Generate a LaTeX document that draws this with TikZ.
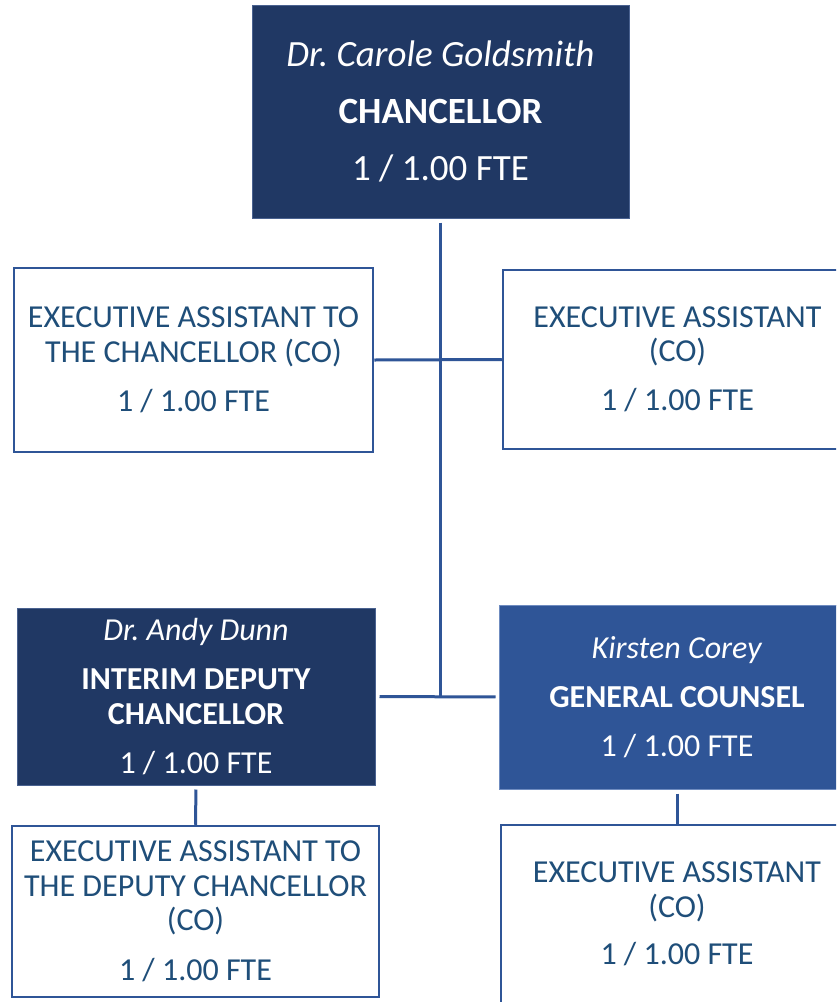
\documentclass[tikz,border=0pt]{standalone}
\usepackage{fontspec}
\setmainfont{Carlito}
\definecolor{navy}{HTML}{203864}
\definecolor{navyedge}{HTML}{4A6290}
\definecolor{gcblue}{HTML}{2F5597}
\definecolor{gcedge}{HTML}{6F8CC0}
\definecolor{lineblue}{HTML}{2F5597}
\definecolor{eatext}{HTML}{1F4E79}
\frenchspacing
\begin{document}
\begin{tikzpicture}[x=1pt,y=-1pt,
  box/.style={rectangle, inner sep=0pt, align=center, anchor=center},
  dark/.style={box, fill=navy, draw=navyedge, line width=1pt, text=white},
  mid/.style={box, fill=gcblue, draw=gcedge, line width=1pt, text=white},
  assist/.style={box, fill=white, draw=lineblue, line width=2.5pt, text=eatext},
  link/.style={draw=lineblue, line width=3pt},
  small/.style={font=\fontsize{32}{34.5}\selectfont},
  large/.style={font=\fontsize{37}{57}\selectfont}]
\fill[white] (0,0) rectangle (836,1002);
\useasboundingbox (0,0) rectangle (836,1002);
\clip (0,0) rectangle (836,1002);

\node[dark, large, minimum width=377pt, minimum height=213pt] (chan) at (440.5,111.5)
  {\textit{Dr. Carole Goldsmith}\\ \textbf{CHANCELLOR}\\ 1 / 1.00 FTE};

\node[assist, small, minimum width=359pt, minimum height=184pt] (eaL) at (193.5,360)
  {EXECUTIVE ASSISTANT TO\\ THE CHANCELLOR (CO)\\[14.5pt] 1 / 1.00 FTE};

\node[assist, small, minimum width=349pt, minimum height=179pt] (eaR) at (677.5,359.5)
  {EXECUTIVE ASSISTANT\\ (CO)\\[14.5pt] 1 / 1.00 FTE};

\node[dark, small, minimum width=358pt, minimum height=177pt] (dep) at (196,696.5)
  {\textit{Dr. Andy Dunn}\\[14.5pt] \textbf{INTERIM DEPUTY}\\ \textbf{CHANCELLOR}\\[14.5pt] 1 / 1.00 FTE};

\node[mid, small, minimum width=356pt, minimum height=184pt] (gc) at (677,697)
  {\textit{Kirsten Corey}\\[14.5pt] \textbf{GENERAL COUNSEL}\\[14.5pt] 1 / 1.00 FTE};

\node[assist, small, minimum width=367pt, minimum height=171pt] (eaD) at (195.5,911.5)
  {EXECUTIVE ASSISTANT TO\\ THE DEPUTY CHANCELLOR\\ (CO)\\[15pt] 1 / 1.00 FTE};

\node[assist, small, minimum width=352pt, minimum height=178pt] (eaG) at (677,914)
  {EXECUTIVE ASSISTANT\\ (CO)\\[13pt] 1 / 1.00 FTE};

\coordinate (j) at (chan.south |- gc.west);

\draw[link, shorten <=4pt] (chan.south) -- (j);
\draw[link] (eaL.east) -- (eaR.west);
\draw[link, shorten <=4pt, shorten >=3pt] (dep.east) -- (gc.west);
\draw[link, shorten <=4pt] (dep.south) -- (eaD.north);
\draw[link, shorten <=4pt] (gc.south) -- (eaG.north);
\end{tikzpicture}
\end{document}
